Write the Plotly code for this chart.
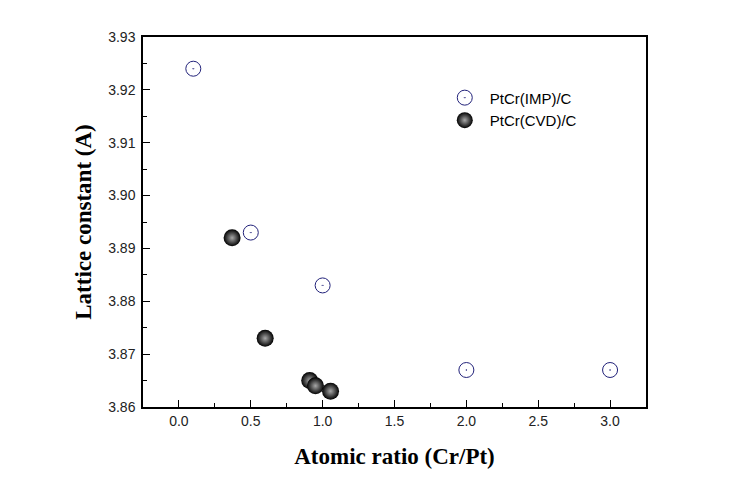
import plotly.graph_objects as go

imp_x = [0.1, 0.5, 1.0, 2.0, 3.0]
imp_y = [3.924, 3.893, 3.883, 3.867, 3.867]
cvd_x = [0.37, 0.6, 0.91, 0.95, 1.055]
cvd_y = [3.892, 3.873, 3.865, 3.864, 3.863]

fig = go.Figure()
fig.add_trace(go.Scatter(
    x=imp_x, y=imp_y, mode="markers", name="PtCr(IMP)/C",
    marker=dict(symbol="circle-open-dot", size=15, color="#22227a", line=dict(width=1)),
))
fig.add_trace(go.Scatter(
    x=cvd_x, y=cvd_y, mode="markers", name="PtCr(CVD)/C",
    marker=dict(symbol="circle", size=17, color="#000000",
                gradient=dict(type="radial", color="#a8a8a8"),
                line=dict(width=0)),
))

axis_common = dict(
    showline=True, linecolor="black", linewidth=1.5, mirror=True,
    ticks="inside", ticklen=7, tickwidth=1, tickcolor="black",
    showgrid=False, zeroline=False,
    tickfont=dict(family="Liberation Sans, Arial", size=14, color="#222"),
)

fig.update_layout(
    width=734, height=485,
    margin=dict(l=135, r=96, t=29, b=86),
    paper_bgcolor="white", plot_bgcolor="white",
    xaxis=dict(range=[-0.25, 3.25], tickvals=[0, 0.5, 1.0, 1.5, 2.0, 2.5, 3.0],
               ticktext=["0.0", "0.5", "1.0", "1.5", "2.0", "2.5", "3.0"],
               minor=dict(ticks="inside", ticklen=4, tickcolor="black", dtick=0.25, tick0=0),
               title=dict(text="<b>Atomic ratio (Cr/Pt)</b>", standoff=20,
                          font=dict(family="Liberation Serif, Times New Roman", size=23, color="black")),
               **axis_common),
    yaxis=dict(range=[3.86, 3.93], tickvals=[3.86, 3.87, 3.88, 3.89, 3.90, 3.91, 3.92, 3.93],
               ticktext=["3.86", "3.87", "3.88", "3.89", "3.90", "3.91", "3.92", "3.93"],
               minor=dict(ticks="inside", ticklen=4, tickcolor="black", dtick=0.005, tick0=3.86),
               ticklabelstandoff=3,
               title=dict(text="<b>Lattice constant (A)</b>", standoff=10,
                          font=dict(family="Liberation Serif, Times New Roman", size=23, color="black")),
               **axis_common),
    legend=dict(x=0.59, y=0.88, xanchor="left", yanchor="top", bgcolor="rgba(0,0,0,0)",
                font=dict(family="Liberation Sans, Arial", size=15, color="black"),
                tracegroupgap=0, itemsizing="trace", itemwidth=40),
    showlegend=True,
)

fig.write_html("out.html")
